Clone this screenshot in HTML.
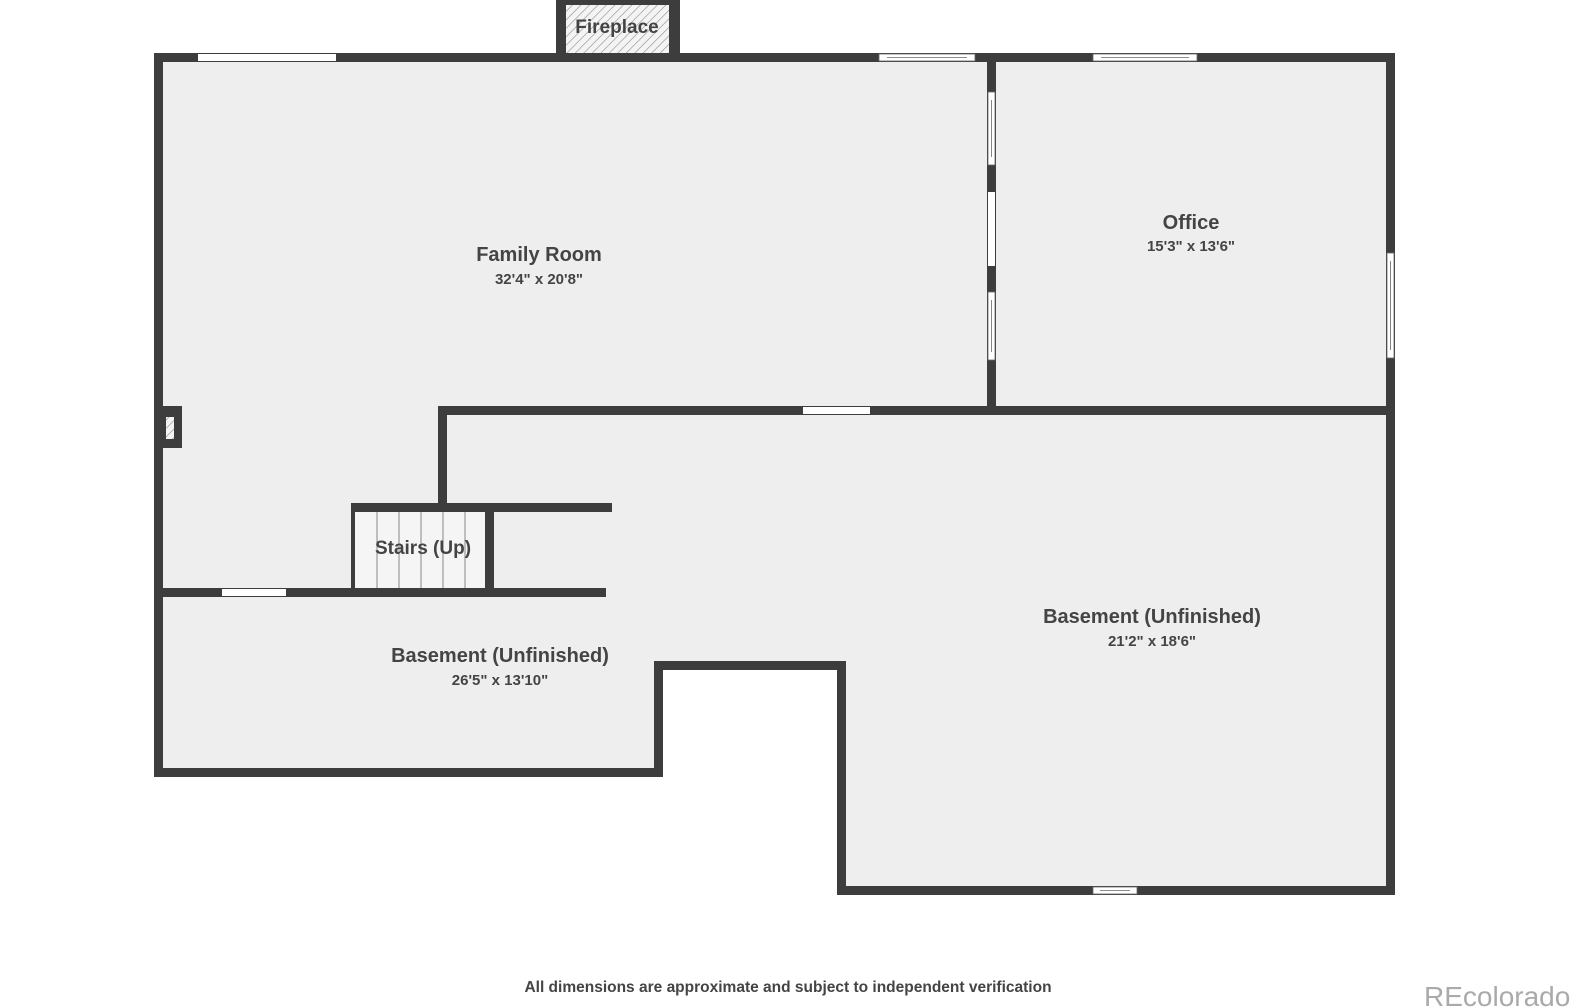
<!DOCTYPE html>
<html><head><style>body{margin:0;background:#fff}svg{display:block}</style></head><body>
<svg width="1578" height="1008" viewBox="0 0 1578 1008" xmlns="http://www.w3.org/2000/svg" font-family="Liberation Sans, sans-serif" font-weight="bold">
<defs>
<pattern id="h" width="6" height="6" patternUnits="userSpaceOnUse" patternTransform="rotate(45)"><rect width="6" height="6" fill="#f4f4f4"/><line x1="0" y1="0" x2="0" y2="6" stroke="#888" stroke-width="1.2"/></pattern>
</defs>
<polygon points="158,57 1390,57 1390,890 841,890 841,665 658,665 658,772 158,772" fill="#eeeeee"/>
<rect x="556" y="0" width="124" height="60" fill="#3d3d3d"/>
<rect x="566" y="5" width="103" height="48" fill="url(#h)"/>
<text x="617" y="33" font-size="19" fill="#444" text-anchor="middle">Fireplace</text>
<g fill="#3d3d3d">
<rect x="154" y="53" width="1241" height="9"/>
<rect x="154" y="53" width="9" height="724"/>
<rect x="1386" y="53" width="9" height="842"/>
<rect x="987" y="53" width="9" height="362"/>
<rect x="438" y="406" width="957" height="9"/>
<rect x="438" y="406" width="9" height="106"/>
<rect x="351" y="503" width="261" height="9"/>
<rect x="485" y="503" width="9" height="94"/>
<rect x="154" y="588" width="452" height="9"/>
<rect x="154" y="768" width="509" height="9"/>
<rect x="654" y="661" width="9" height="116"/>
<rect x="654" y="661" width="192" height="9"/>
<rect x="837" y="661" width="9" height="234"/>
<rect x="837" y="886" width="558" height="9"/>
<rect x="163" y="406" width="19" height="42"/>
</g>
<rect x="166" y="417" width="8" height="22" fill="url(#h)"/>
<rect x="355" y="512" width="130" height="76" fill="#f5f5f5"/>
<rect x="351" y="512" width="4" height="80" fill="#3d3d3d"/>
<g stroke="#888" stroke-width="1"><line x1="377" y1="512" x2="377" y2="588"/><line x1="399" y1="512" x2="399" y2="588"/><line x1="421" y1="512" x2="421" y2="588"/><line x1="443" y1="512" x2="443" y2="588"/><line x1="465" y1="512" x2="465" y2="588"/></g>
<g fill="#fff">
<rect x="198" y="54" width="138" height="7"/>
<rect x="803" y="407" width="67" height="7"/>
<rect x="222" y="589" width="64" height="7"/>
<rect x="988" y="192" width="7" height="74"/>
</g>
<g fill="#fff" stroke="#666" stroke-width="0.8">
<rect x="879" y="54" width="96" height="7"/><line x1="887" y1="57.5" x2="967" y2="57.5"/>
<rect x="1093" y="54" width="104" height="7"/><line x1="1101" y1="57.5" x2="1189" y2="57.5"/>
<rect x="988" y="92" width="7" height="73"/><line x1="991.5" y1="100" x2="991.5" y2="157"/>
<rect x="988" y="292" width="7" height="68"/><line x1="991.5" y1="300" x2="991.5" y2="352"/>
<rect x="1387" y="253" width="7" height="105"/><line x1="1390.5" y1="261" x2="1390.5" y2="350"/>
<rect x="1093" y="887" width="44" height="7"/><line x1="1100" y1="890.5" x2="1130" y2="890.5"/>
</g>
<g fill="#444" text-anchor="middle">
<text x="539" y="261" font-size="20">Family Room</text>
<text x="539" y="284" font-size="15">32'4" x 20'8"</text>
<text x="1191" y="229" font-size="20">Office</text>
<text x="1191" y="251" font-size="15">15'3" x 13'6"</text>
<text x="423" y="554" font-size="19">Stairs (Up)</text>
<text x="500" y="662" font-size="20">Basement (Unfinished)</text>
<text x="500" y="685" font-size="15">26'5" x 13'10"</text>
<text x="1152" y="623" font-size="20">Basement (Unfinished)</text>
<text x="1152" y="646" font-size="15">21'2" x 18'6"</text>
<text x="788" y="992" font-size="15.5">All dimensions are approximate and subject to independent verification</text>
</g>
<text x="1424" y="1006" font-size="28" font-weight="normal" fill="#aaa">REcolorado</text>
</svg>
</body></html>
